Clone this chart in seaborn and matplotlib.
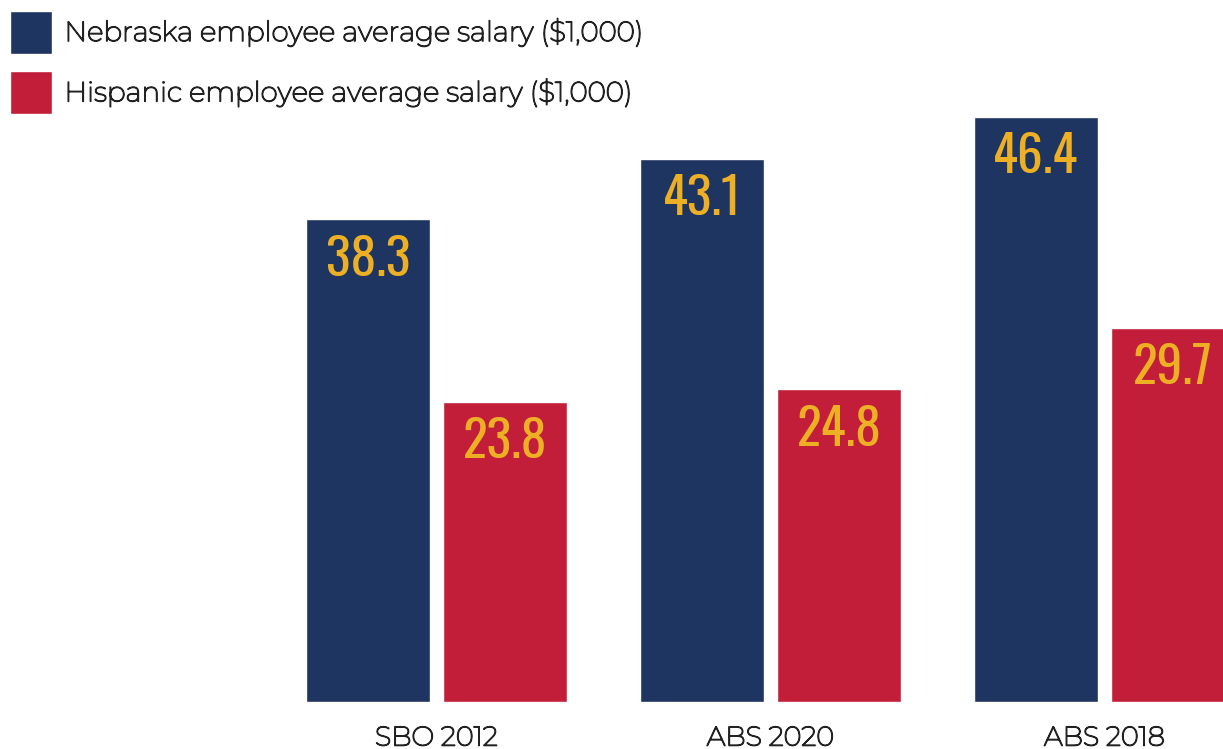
import matplotlib.pyplot as plt
import matplotlib.patheffects as pe
import pandas as pd
import seaborn as sns
from matplotlib import font_manager

sources = ["SBO 2012", "ABS 2020", "ABS 2018"]
series = [
    "Nebraska employee average salary ($1,000)",
    "Hispanic employee average salary ($1,000)",
]
nebraska = [38.3, 43.1, 46.4]
hispanic = [23.8, 24.8, 29.7]

NAVY = "#1e3461"
RED = "#c21e3a"
GOLD = "#edb025"
INK = "#222222"

df = pd.DataFrame({
    "source": sources * 2,
    "series": [series[0]] * 3 + [series[1]] * 3,
    "value": nebraska + hispanic,
})

names = {f.name for f in font_manager.fontManager.ttflist}
text_font = "Montserrat" if "Montserrat" in names else "DejaVu Sans"
num_font = "Oswald" if "Oswald" in names else "DejaVu Sans"
# the installed Montserrat is the thin instance, so thicken it a little
thicken = [pe.withStroke(linewidth=1.0, foreground=INK)] if text_font == "Montserrat" else []

sns.set_style("white")
plt.rcParams["font.family"] = [text_font, "DejaVu Sans"]

fig = plt.figure(figsize=(12.23, 7.49), dpi=100)
ax = fig.add_axes([0, 47 / 749, 1, 702 / 749])

sns.barplot(
    data=df, x="source", y="value", hue="series", order=sources,
    hue_order=series, palette=[NAVY, RED], width=0.82, gap=0.095,
    saturation=1, ax=ax,
)

ax.set_xlim(-1.307, 2.355)
ax.set_ylim(0, 55.7)
ax.set_xlabel("")
ax.set_ylabel("")
ax.set_yticks([])
sns.despine(ax=ax, left=True, bottom=True)
ax.tick_params(axis="x", length=0, labelsize=19.5, pad=17, labelcolor=INK)
for lbl in ax.get_xticklabels():
    lbl.set_path_effects(thicken)

for container in ax.containers:
    for bar, val in zip(container, container.datavalues):
        ax.annotate(
            f"{val:.1f}",
            (bar.get_x() + bar.get_width() / 2, bar.get_height()),
            xytext=(0, -29), textcoords="offset points",
            ha="center", va="center", color=GOLD,
            fontsize=37, family=num_font,
            annotation_clip=False,
        )

leg = ax.legend(
    loc="upper left", bbox_to_anchor=(10 / 1223, 1 - 11 / 702),
    frameon=False, fontsize=20, borderpad=0, borderaxespad=0,
    handlelength=1.51, handleheight=1.98, handletextpad=0.45,
    labelspacing=0.64, labelcolor=INK,
)
for t in leg.get_texts():
    t.set_path_effects(thicken)

fig.savefig("out.png", dpi=100)
